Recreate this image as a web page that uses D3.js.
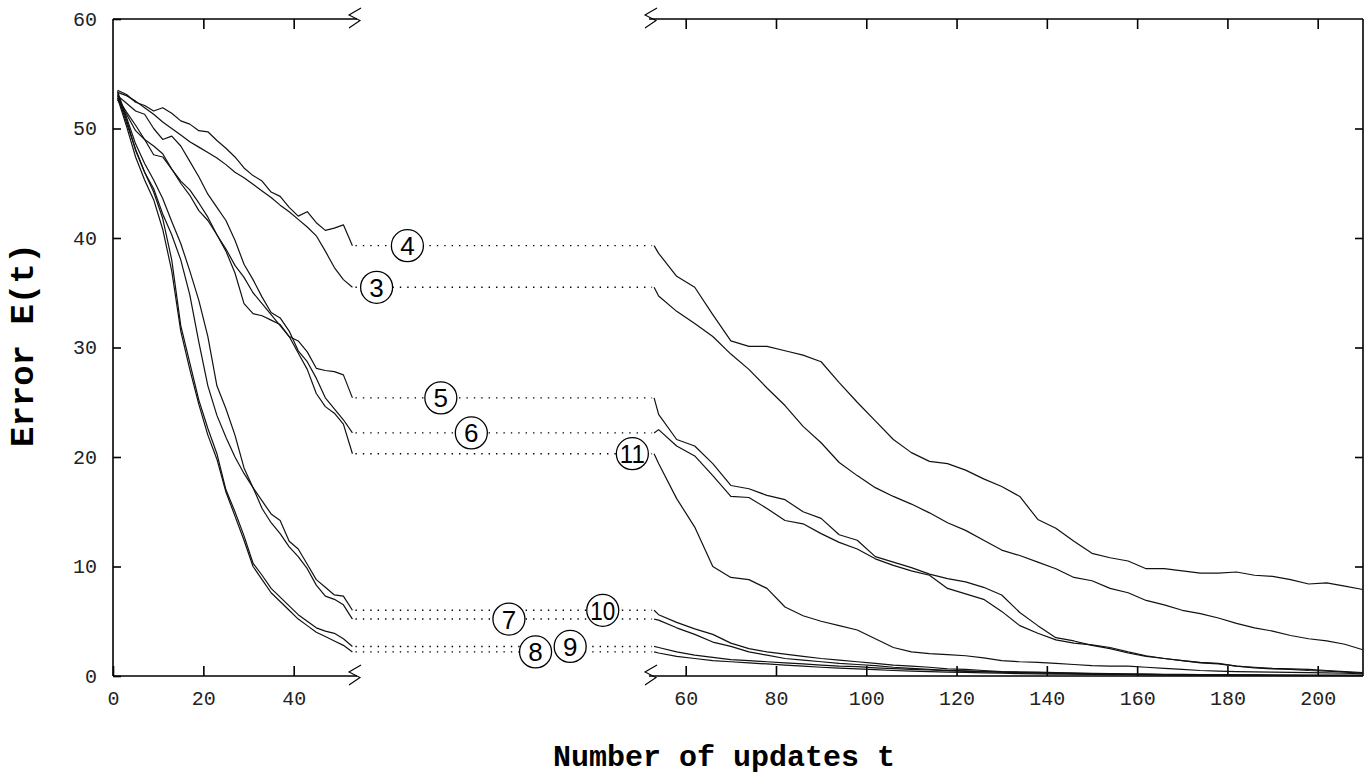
<!DOCTYPE html>
<html>
<head>
<meta charset="utf-8">
<script src="https://cdn.jsdelivr.net/npm/d3@7"></script>
<style>
  body { margin: 0; background: #fff; }
  svg { display: block; }
</style>
</head>
<body>
<svg id="viz" width="1366" height="774"></svg>
<script>
// sample positions (number of updates t)
var tLeft = d3.range(1, 54, 2);      // 1..53
var tRight = d3.range(54, 211, 4);   // 54..210

var xTicksLeft = [0, 20, 40];
var xTicksRight = [60, 80, 100, 120, 140, 160, 180, 200];
var yTicks = [0, 10, 20, 30, 40, 50, 60];

var seriesNames = ["3", "4", "5", "6", "7", "8", "9", "10", "11"];

// error E(t), left part of the broken axis
var left3 = [53.3,53.0,52.5,51.9,51.3,50.6,50.0,49.4,48.8,48.3,47.8,47.3,46.7,46.0,45.5,44.9,44.3,43.7,43.0,42.4,41.7,41.0,40.2,38.8,37.3,36.2,35.5];
var left4 = [53.5,53.1,52.4,52.1,51.6,51.9,51.4,50.7,50.4,49.8,49.7,48.9,48.2,47.4,46.4,45.7,45.2,44.2,43.8,42.8,42.0,42.4,41.4,40.7,40.9,41.2,39.3];
var left5 = [52.8,51.5,50.3,49.0,47.6,47.4,46.3,45.2,44.4,43.2,41.9,40.3,38.8,36.8,34.0,33.1,32.9,32.5,32.1,31.0,30.6,29.6,28.1,27.9,27.8,27.5,25.4];
var left6 = [53.0,52.3,51.6,51.3,50.0,49.0,49.3,48.4,47.0,45.6,44.0,42.8,41.6,39.8,37.6,36.2,34.6,33.2,32.7,31.5,29.7,28.7,27.2,25.4,24.4,23.4,22.2];
var left7 = [53.0,50.5,48.1,46.0,44.5,42.2,40.3,38.0,34.8,30.5,26.5,23.8,21.8,20.0,18.5,17.2,15.3,14.0,13.0,11.8,10.9,9.8,8.3,7.3,7.0,6.5,5.2];
var left8 = [52.8,50.2,47.4,45.3,43.5,40.8,37.0,31.5,28.0,24.8,22.0,19.8,16.8,14.6,12.4,10.0,8.8,7.6,6.8,6.0,5.2,4.6,4.0,3.6,3.2,2.8,2.2];
var left9 = [53.2,50.8,48.0,46.0,44.2,41.8,38.0,32.0,28.6,25.2,22.6,20.3,17.0,15.0,12.8,10.3,9.2,8.0,7.2,6.4,5.6,5.0,4.4,4.1,3.9,3.4,2.7];
var left10 = [53.4,51.0,48.6,46.8,45.3,43.6,41.5,39.5,37.0,34.3,31.0,26.5,24.4,22.0,19.0,17.2,16.0,14.8,14.2,12.3,11.6,10.2,8.8,8.1,7.4,7.3,6.0];
var left11 = [52.6,51.3,49.8,49.0,48.4,47.7,46.3,45.0,43.9,42.5,41.6,40.3,39.0,37.5,36.4,35.0,34.0,33.0,32.0,31.0,29.5,28.0,25.8,24.6,24.0,23.0,20.3];

// error E(t), right part of the broken axis
var right3 = [34.7,33.3,32.2,31.0,29.4,28.0,26.3,24.7,22.8,21.3,19.5,18.3,17.2,16.4,15.7,14.9,14.0,13.3,12.4,11.5,11.0,10.4,9.8,9.0,8.7,8.0,7.6,6.9,6.5,6.0,5.7,5.3,4.8,4.4,4.1,3.7,3.4,3.2,2.9,2.4];
var right4 = [38.6,36.5,35.5,33.0,30.6,30.1,30.1,29.7,29.3,28.7,26.8,25.0,23.3,21.6,20.4,19.6,19.4,18.8,18.0,17.3,16.4,14.3,13.5,12.3,11.2,10.8,10.5,9.8,9.8,9.6,9.4,9.4,9.5,9.2,9.1,8.8,8.4,8.5,8.2,7.9];
var right5 = [23.9,21.6,21.0,19.4,17.4,17.1,16.5,16.1,15.0,14.4,12.9,12.4,10.9,10.4,9.9,9.3,8.9,8.6,8.1,7.4,5.8,4.6,3.5,3.2,2.8,2.5,2.1,1.8,1.6,1.4,1.25,1.15,0.9,0.8,0.7,0.65,0.6,0.5,0.4,0.3];
var right6 = [22.5,21.0,20.1,18.3,16.4,16.3,15.3,14.2,13.9,13.0,12.2,11.6,10.7,10.1,9.6,9.2,8.0,7.5,7.0,5.9,4.6,3.9,3.3,3.0,2.85,2.6,2.2,1.85,1.6,1.4,1.2,1.1,0.9,0.75,0.65,0.6,0.5,0.45,0.35,0.25];
var right7 = [5.1,4.4,3.8,3.1,2.7,2.2,1.9,1.6,1.45,1.3,1.15,1.05,0.95,0.8,0.7,0.6,0.52,0.48,0.4,0.35,0.32,0.28,0.25,0.22,0.2,0.18,0.16,0.14,0.13,0.12,0.1,0.1,0.09,0.08,0.07,0.06,0.06,0.05,0.05,0.04];
var right8 = [2.1,1.8,1.6,1.4,1.3,1.2,1.1,1.0,0.9,0.8,0.72,0.65,0.58,0.5,0.45,0.4,0.36,0.33,0.28,0.25,0.22,0.2,0.18,0.16,0.15,0.13,0.12,0.1,0.09,0.08,0.07,0.06,0.06,0.05,0.05,0.04,0.04,0.03,0.03,0.03];
var right9 = [2.6,2.2,1.9,1.7,1.5,1.4,1.3,1.2,1.1,1.0,0.9,0.85,0.75,0.68,0.6,0.55,0.48,0.43,0.4,0.35,0.32,0.28,0.25,0.22,0.2,0.18,0.16,0.15,0.13,0.12,0.11,0.1,0.09,0.08,0.07,0.06,0.06,0.05,0.05,0.05];
var right10 = [5.6,4.9,4.3,3.8,3.0,2.5,2.2,2.0,1.8,1.6,1.45,1.3,1.15,1.0,0.9,0.8,0.65,0.6,0.5,0.4,0.38,0.35,0.3,0.28,0.25,0.22,0.2,0.18,0.16,0.15,0.13,0.12,0.1,0.1,0.09,0.08,0.07,0.06,0.05,0.05];
var right11 = [19.4,16.2,13.6,10.0,9.0,8.8,8.0,6.3,5.5,5.0,4.6,4.2,3.4,2.6,2.2,2.05,1.95,1.85,1.65,1.4,1.3,1.25,1.15,1.05,0.95,0.9,0.9,0.8,0.7,0.6,0.5,0.45,0.4,0.38,0.35,0.33,0.3,0.28,0.25,0.2];

var leftData = [left3, left4, left5, left6, left7, left8, left9, left10, left11];
var rightData = [right3, right4, right5, right6, right7, right8, right9, right10, right11];

// where each circled label sits along the gap (0 = left end, 1 = right end)
var labelGap = [0.073, 0.177, 0.29, 0.393, 0.52, 0.61, 0.727, 0.837, 0.937];

var svg = d3.select('svg#viz');

var yTop = 19, yBottom = 676;
var y = d3.scaleLinear().domain([0, 60]).range([yBottom, yTop]);
var xL = d3.scaleLinear().domain([0, 40]).range([113, 293.7]);
var xR = d3.scaleLinear().domain([60, 200]).range([685.7, 1317.7]);

var leftEdge = 113, rightEdge = 1363;
var breakL = 355, breakR = 651;
var tBreak = 53;

// frame: verticals full, horizontals broken
var frame = svg.append('g').attr('stroke', '#000').attr('stroke-width', 1.6).attr('fill', 'none');
frame.append('line').attr('x1', leftEdge).attr('x2', leftEdge).attr('y1', yTop).attr('y2', yBottom);
frame.append('line').attr('x1', rightEdge).attr('x2', rightEdge).attr('y1', yTop).attr('y2', yBottom);
[yTop, yBottom].forEach(function(yy) {
    frame.append('line').attr('x1', leftEdge).attr('x2', breakL + 2).attr('y1', yy).attr('y2', yy);
    frame.append('line').attr('x1', breakR - 2).attr('x2', rightEdge).attr('y1', yy).attr('y2', yy);
});

// break marks
function breakMark(cx, cy) {
    var pts = [[cx + 6, cy - 11], [cx - 6, cy - 4], [cx + 5, cy + 1.5], [cx - 6, cy + 9]];
    svg.append('polyline')
        .attr('points', pts.map(function(p) { return p.join(','); }).join(' '))
        .attr('fill', 'none')
        .attr('stroke', '#000')
        .attr('stroke-width', 1.1);
}
breakMark(breakL, yTop);
breakMark(breakR, yTop);
breakMark(breakL, yBottom);
breakMark(breakR, yBottom);

// axes (ticks inward)
function styleAxis(g) {
    g.select('.domain').remove();
    g.selectAll('.tick line').attr('stroke', '#000').attr('stroke-width', 1.6);
    g.selectAll('text')
        .attr('font-family', '"Liberation Mono", "Courier New", monospace')
        .attr('font-size', 20)
        .attr('fill', '#222');
}

svg.append('g').attr('transform', 'translate(0,' + yBottom + ')')
    .call(d3.axisBottom(xL).tickValues(xTicksLeft).tickSize(-10).tickPadding(15))
    .call(styleAxis);
svg.append('g').attr('transform', 'translate(0,' + yBottom + ')')
    .call(d3.axisBottom(xR).tickValues(xTicksRight).tickSize(-10).tickPadding(15))
    .call(styleAxis);
svg.append('g').attr('transform', 'translate(0,' + yTop + ')')
    .call(d3.axisTop(xL).tickValues(xTicksLeft.slice(1)).tickSize(-10).tickFormat(''))
    .call(styleAxis);
svg.append('g').attr('transform', 'translate(0,' + yTop + ')')
    .call(d3.axisTop(xR).tickValues(xTicksRight).tickSize(-10).tickFormat(''))
    .call(styleAxis);
svg.append('g').attr('transform', 'translate(' + leftEdge + ',0)')
    .call(d3.axisLeft(y).tickValues(yTicks).tickSize(-8).tickPadding(16))
    .call(styleAxis);
svg.append('g').attr('transform', 'translate(' + rightEdge + ',0)')
    .call(d3.axisRight(y).tickValues(yTicks.slice(1, -1)).tickSize(-8).tickFormat(''))
    .call(styleAxis);

// curves
var lineL = d3.line().x(function(d) { return xL(d[0]); }).y(function(d) { return y(d[1]); });
var lineR = d3.line().x(function(d) { return xR(d[0]); }).y(function(d) { return y(d[1]); });

var curves = svg.append('g').attr('fill', 'none').attr('stroke', '#111').attr('stroke-width', 1.2)
    .attr('stroke-linejoin', 'round');

seriesNames.forEach(function(name, i) {
    var lv = leftData[i], rv = rightData[i];
    var endVal = lv[lv.length - 1];
    var lp = tLeft.map(function(t, k) { return [t, lv[k]]; });
    var rp = [[tBreak, endVal]].concat(tRight.map(function(t, k) { return [t, rv[k]]; }));
    curves.append('path').attr('d', lineL(lp));
    curves.append('path').attr('d', lineR(rp));

    // dotted connector across the gap
    svg.append('line')
        .attr('x1', xL(tBreak) + 3).attr('x2', xR(tBreak) - 2)
        .attr('y1', y(endVal)).attr('y2', y(endVal))
        .attr('stroke', '#000')
        .attr('stroke-width', 1.4)
        .attr('stroke-dasharray', '1.4,6');
});

// circled labels
var labels = svg.append('g');
seriesNames.forEach(function(name, i) {
    var lv = leftData[i];
    var cx = breakL + (breakR - breakL) * labelGap[i];
    var cy = y(lv[lv.length - 1]);
    labels.append('circle')
        .attr('cx', cx).attr('cy', cy).attr('r', 16)
        .attr('fill', '#fff').attr('stroke', '#000').attr('stroke-width', 1.3);
    var tx = labels.append('text')
        .attr('x', cx).attr('y', cy + 9.5)
        .attr('text-anchor', 'middle')
        .attr('font-family', '"Liberation Sans", Arial, sans-serif')
        .attr('font-size', 26)
        .attr('fill', '#000')
        .text(name);
    if (name.length > 1) {
        tx.attr('textLength', 25).attr('lengthAdjust', 'spacingAndGlyphs');
    }
});

// axis titles
svg.append('text')
    .attr('x', 724).attr('y', 766)
    .attr('text-anchor', 'middle')
    .attr('font-family', '"Liberation Mono", "Courier New", monospace')
    .attr('font-weight', 'bold')
    .attr('font-size', 30)
    .text('Number of updates t');

svg.append('text')
    .attr('transform', 'translate(33,345) rotate(-90)')
    .attr('text-anchor', 'middle')
    .attr('font-family', '"Liberation Mono", "Courier New", monospace')
    .attr('font-weight', 'bold')
    .attr('font-size', 34)
    .text('Error E(t)');
</script>
</body>
</html>
